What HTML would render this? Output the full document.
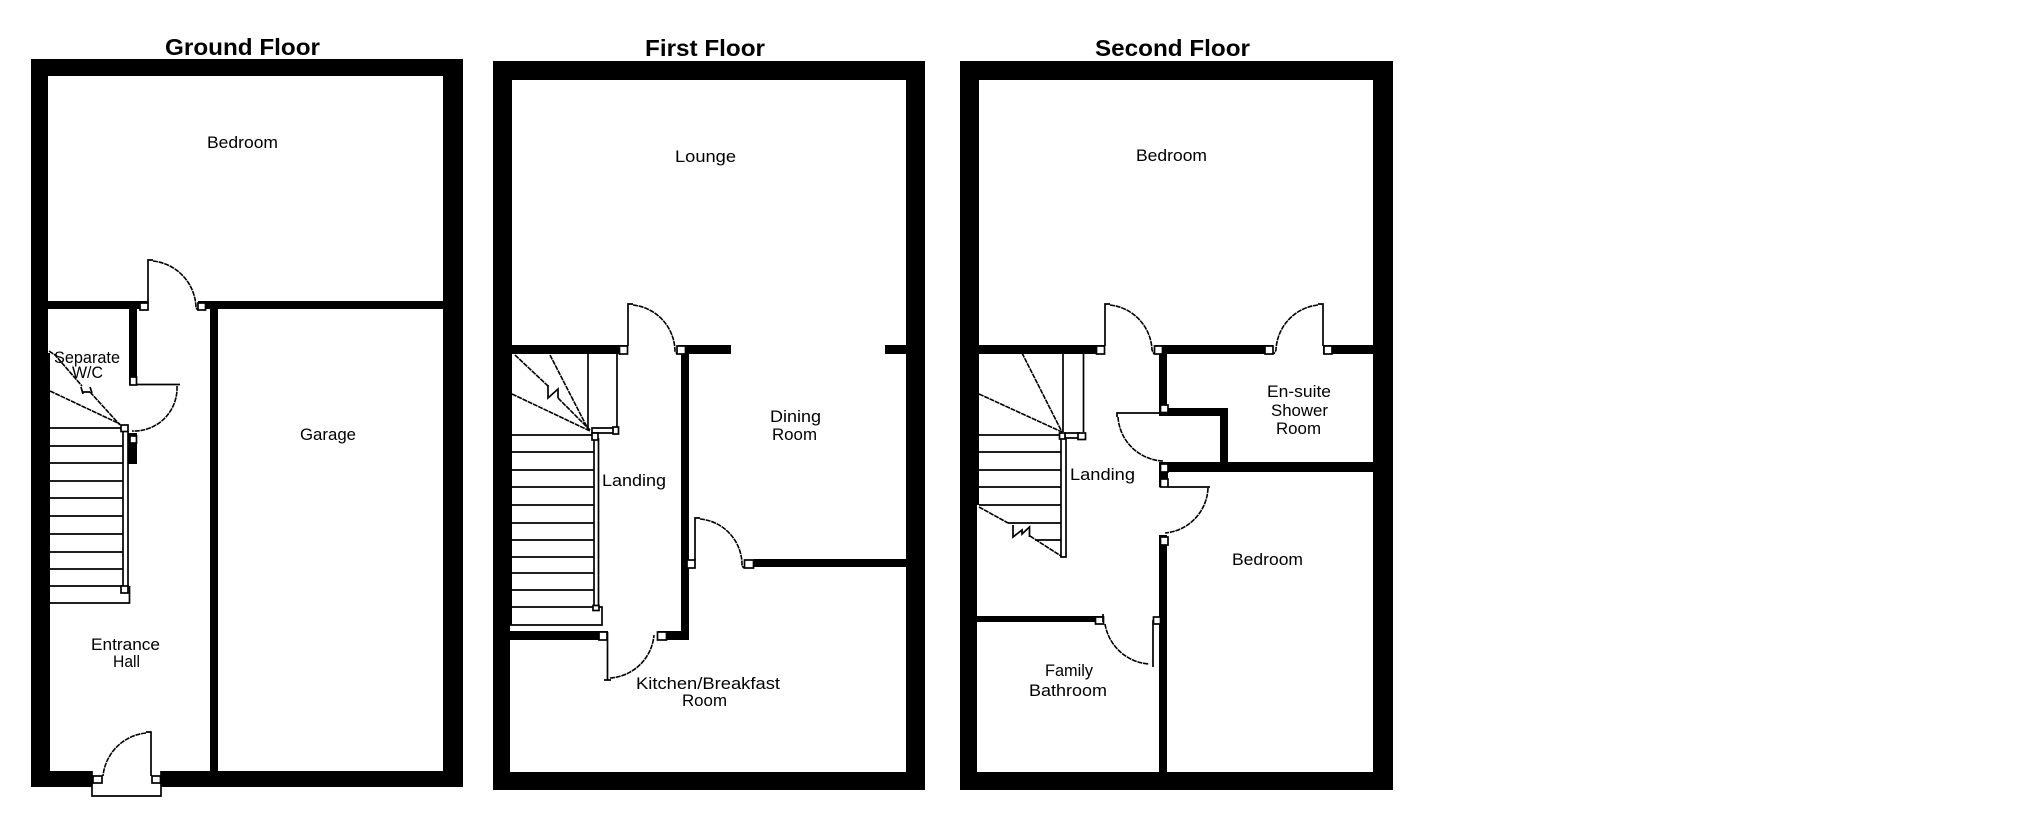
<!DOCTYPE html>
<html><head><meta charset="utf-8"><style>
html,body{margin:0;padding:0;background:#fff;width:2025px;height:825px;overflow:hidden}
svg{display:block}
text{font-family:"Liberation Sans",sans-serif;fill:#000;font-size:17px}
.t{font-weight:bold;font-size:23.5px}
.l{fill:none;stroke:#000;stroke-width:1.7}
.d{fill:none;stroke:#000;stroke-width:1.6;stroke-dasharray:5 .8}
.s{fill:#fff;stroke:#000;stroke-width:1.7}
</style></head><body>
<svg width="2025" height="825" viewBox="0 0 2025 825" xmlns="http://www.w3.org/2000/svg">
<rect width="2025" height="825" fill="#fff"/>

<!-- GROUND FLOOR -->
<rect x="31" y="59" width="432" height="728" fill="#000"/>
<g fill="#fff">
<rect x="48" y="76" width="395" height="225"/>
<rect x="50" y="309" width="160" height="462"/>
<rect x="48" y="309" width="81" height="44"/>
<rect x="218" y="309" width="225" height="462"/>
<rect x="148" y="301" width="50" height="9"/>
<rect x="92" y="771" width="69" height="25"/>
</g>
<rect x="129" y="309" width="8" height="76" fill="#000"/>
<rect x="127.500" y="433" width="9.500" height="31" fill="#000"/>
<path class="l" d="M92 771V796H161V771"/>
<rect class="s" x="140" y="303" width="8" height="7"/>
<rect class="s" x="198" y="303" width="7.500" height="7"/>
<rect class="s" x="130" y="377" width="6.500" height="8"/>
<rect class="s" x="130" y="436" width="6.500" height="7"/>
<rect class="s" x="93" y="776" width="9" height="7"/>
<rect class="s" x="152" y="776" width="8.500" height="7"/>
<path class="l" d="M148 303V260H153"/>
<path class="d" d="M153 261A48 48 0 0 1 196 308L198 310"/>
<path class="l" d="M137 384.500H180"/>
<path class="d" d="M177 386A43 43 0 0 1 132 431"/>
<path class="l" d="M151 776V732H146"/>
<path class="d" d="M146 733A48 48 0 0 0 103 776"/>
<g class="l">
<path d="M50 428H121M50 446H123M50 463H123M50 481H123M50 498H123M50 516H123M50 534H123M50 552H123M50 569H123M50 586H122M50 603H129.500V586"/>
<path d="M123 431V586M128 431V586"/>
</g>
<rect class="s" x="121" y="425" width="7" height="6.500"/>
<rect class="s" x="121" y="586" width="7" height="7"/>
<path class="d" d="M50 391L120 424M49 351L55 355L82 386M90 392L120 425"/>
<path class="l" d="M81 387L83 394M83 392H90M90 387L92 393"/>
<text class="t" x="165" y="55" textLength="155" lengthAdjust="spacingAndGlyphs">Ground Floor</text>
<text x="207" y="148" textLength="71" lengthAdjust="spacingAndGlyphs">Bedroom</text>
<text x="300" y="440" textLength="56" lengthAdjust="spacingAndGlyphs">Garage</text>
<text x="54" y="363" textLength="66" lengthAdjust="spacingAndGlyphs">Separate</text>
<text x="72" y="378" textLength="31" lengthAdjust="spacingAndGlyphs">W/C</text>
<text x="91" y="650" textLength="69" lengthAdjust="spacingAndGlyphs">Entrance</text>
<text x="113" y="667" textLength="27" lengthAdjust="spacingAndGlyphs">Hall</text>

<!-- FIRST FLOOR -->
<rect x="493" y="61" width="432" height="729" fill="#000"/>
<g fill="#fff">
<rect x="512" y="80" width="394" height="265"/>
<rect x="731" y="345" width="154" height="214"/>
<rect x="689" y="354" width="217" height="205"/>
<rect x="512" y="354" width="169" height="271"/>
<rect x="510" y="625" width="171" height="6"/>
<rect x="598" y="600" width="83" height="31"/>
<rect x="628" y="345" width="50" height="10"/>
<rect x="510" y="640" width="396" height="132"/>
<rect x="689" y="559" width="65" height="9"/>
<rect x="689" y="567" width="217" height="205"/>
<rect x="608" y="631" width="50" height="9"/>
</g>
<rect class="s" x="619.500" y="346" width="8" height="8"/>
<rect class="s" x="677" y="346" width="8.500" height="8"/>
<rect class="s" x="599" y="632" width="8" height="8"/>
<rect class="s" x="657.500" y="632" width="9" height="8"/>
<rect class="s" x="687" y="560" width="8" height="8"/>
<rect class="s" x="744.500" y="560" width="9" height="8"/>
<path class="l" d="M628 346V304H633"/>
<path class="d" d="M633 305A47 47 0 0 1 675 351L677 354"/>
<path class="l" d="M695 560V518H700"/>
<path class="d" d="M700 519A46 46 0 0 1 742 566L744 568"/>
<path class="l" d="M607.500 632V680M604 680H611"/>
<path class="d" d="M610 678A47 47 0 0 0 654 635"/>
<g class="l">
<path d="M512 435H592M512 452H594M512 470H594M512 487H594M512 505H594M512 523H594M512 540H594M512 557H594M512 573H594M512 590H594M512 607H602V625H510"/>
<path d="M594 438V607M598.500 438V607"/>
<path d="M588 354V428M617 354V428"/>
<path d="M592 428H617V433H592Z"/>
</g>
<rect class="s" x="592" y="433" width="6" height="7"/>
<rect class="s" x="613" y="427" width="5.500" height="7"/>
<rect class="s" x="593" y="605.500" width="6" height="5"/>
<path class="d" d="M515 355L548 386M558 398L590 430M550 355L588 429M512 394L590 431"/>
<path class="l" d="M548 385V398L558 389V398"/>
<text class="t" x="645" y="56" textLength="120" lengthAdjust="spacingAndGlyphs">First Floor</text>
<text x="675" y="162" textLength="61" lengthAdjust="spacingAndGlyphs">Lounge</text>
<text x="770" y="422" textLength="51" lengthAdjust="spacingAndGlyphs">Dining</text>
<text x="772" y="440" textLength="45" lengthAdjust="spacingAndGlyphs">Room</text>
<text x="602" y="486" textLength="64" lengthAdjust="spacingAndGlyphs">Landing</text>
<text x="636" y="689" textLength="144" lengthAdjust="spacingAndGlyphs">Kitchen/Breakfast</text>
<text x="682" y="706" textLength="45" lengthAdjust="spacingAndGlyphs">Room</text>

<!-- SECOND FLOOR -->
<rect x="960" y="61" width="433" height="729" fill="#000"/>
<g fill="#fff">
<rect x="979" y="80" width="394" height="265"/>
<rect x="979" y="354" width="180" height="262"/>
<rect x="977" y="505" width="182" height="111"/>
<rect x="977" y="622" width="182" height="150"/>
<rect x="1104" y="600" width="55" height="30"/>
<rect x="1167" y="354" width="206" height="54"/>
<rect x="1228" y="354" width="145" height="108"/>
<rect x="1159" y="416" width="61" height="46"/>
<rect x="1167" y="472" width="206" height="300"/>
<rect x="1159" y="487" width="43" height="48"/>
<rect x="1105" y="345" width="50" height="10"/>
<rect x="1273" y="345" width="50" height="10"/>
</g>
<rect x="1159.500" y="462" width="8.500" height="25" fill="#000"/>
<rect class="s" x="1096.500" y="346" width="8" height="8"/>
<rect class="s" x="1154.500" y="346" width="8" height="8"/>
<rect class="s" x="1265" y="346" width="8" height="8"/>
<rect class="s" x="1324" y="346" width="8" height="8"/>
<rect class="s" x="1160.500" y="405" width="7.500" height="7.500"/>
<rect class="s" x="1160.500" y="464" width="7.500" height="8"/>
<rect class="s" x="1160.500" y="479" width="7.500" height="8"/>
<rect class="s" x="1160.500" y="537" width="7.500" height="8"/>
<rect class="s" x="1095.500" y="617" width="8" height="7"/>
<rect class="s" x="1153.500" y="617" width="7" height="7"/>
<path class="l" d="M1105 346V304H1110"/>
<path class="d" d="M1110 305A47 47 0 0 1 1152 350L1154 354"/>
<path class="l" d="M1323 346V304H1318"/>
<path class="d" d="M1318 305A47 47 0 0 0 1276 350L1274 354"/>
<path class="l" d="M1160 413H1117V417"/>
<path class="d" d="M1118 417A47 47 0 0 0 1163 461"/>
<path class="l" d="M1168 487H1210"/>
<path class="d" d="M1208 488A47 47 0 0 1 1165 533"/>
<path class="l" d="M1103 614V622"/>
<path class="d" d="M1105 624A48 48 0 0 0 1149 664"/>
<path class="l" d="M1153 620V667"/>
<g class="l">
<path d="M979 435H1059M979 452H1061M979 470H1061M979 487H1061M979 505H1061M1008 523H1061M1035 540H1061"/>
<path d="M1061 439V557H1066V439"/>
<path d="M1063 354V432M1083.500 354V432"/>
<path d="M1065 433H1079V438H1065Z"/>
</g>
<rect class="s" x="1078" y="433" width="7.500" height="6.500"/>
<rect class="s" x="1059.500" y="433" width="5.500" height="6"/>
<path class="d" d="M979 507L1008 523M1030 536L1061 556"/>
<path class="d" d="M1022 353L1062 432M979 394L1062 432"/>
<path class="l" d="M1013 525V537L1022 530V534L1029.500 527V537"/>
<text class="t" x="1095" y="56" textLength="155" lengthAdjust="spacingAndGlyphs">Second Floor</text>
<text x="1136" y="161" textLength="71" lengthAdjust="spacingAndGlyphs">Bedroom</text>
<text x="1267" y="397" textLength="64" lengthAdjust="spacingAndGlyphs">En-suite</text>
<text x="1271" y="416" textLength="57" lengthAdjust="spacingAndGlyphs">Shower</text>
<text x="1276" y="434" textLength="45" lengthAdjust="spacingAndGlyphs">Room</text>
<text x="1070" y="480" textLength="65" lengthAdjust="spacingAndGlyphs">Landing</text>
<text x="1232" y="565" textLength="71" lengthAdjust="spacingAndGlyphs">Bedroom</text>
<text x="1045" y="676" textLength="48" lengthAdjust="spacingAndGlyphs">Family</text>
<text x="1029" y="696" textLength="78" lengthAdjust="spacingAndGlyphs">Bathroom</text>
</svg>
</body></html>
